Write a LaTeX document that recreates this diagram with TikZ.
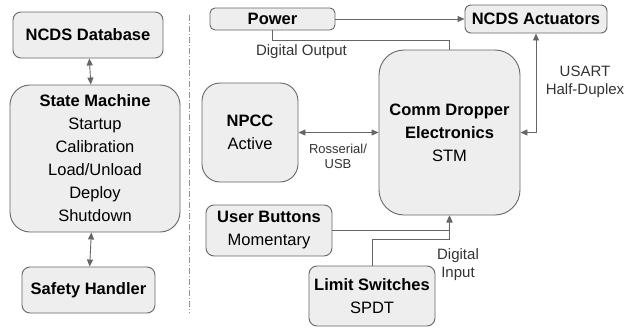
\documentclass[tikz,border=0pt]{standalone}
\usepackage{fontspec}
\setmainfont{Liberation Sans}
\usetikzlibrary{arrows.meta,calc}
\definecolor{linec}{HTML}{666666}
\definecolor{boxbg}{HTML}{EEEEEE}
\definecolor{txtc}{HTML}{333333}
\tikzset{
  bx/.style={draw=linec,line width=0.9pt,fill=boxbg,rounded corners=8pt,align=center,inner sep=0pt,font=\fontsize{16.5}{23}\selectfont},
  ln/.style={linec,line width=0.9pt},
  ar/.style={ln,-{Triangle[length=7pt,width=6pt]}},
  dar/.style={ln,{Triangle[length=7pt,width=6pt]}-{Triangle[length=7pt,width=6pt]}},
  lb/.style={text=txtc,align=center,inner sep=0pt,font=\fontsize{15}{18}\selectfont}
}
\begin{document}
\begin{tikzpicture}[x=1pt,y=-1pt]
\useasboundingbox (0,0) rectangle (624,327);
\node[bx,minimum width=150pt,minimum height=46pt] (db) at (88,35) {\textbf{NCDS Database}};
\node[bx,rounded corners=20pt,minimum width=170pt,minimum height=147pt] (sm) at (95,158.5) {\textbf{State Machine}\\Startup\\Calibration\\Load/Unload\\Deploy\\Shutdown};
\node[bx,minimum width=133pt,minimum height=46pt] (sh) at (88.5,290) {\textbf{Safety Handler}};
\draw[dar] (db) -- (sm);
\draw[dar] (sm) -- (sh);
\draw[linec!70,line width=0.8pt,dash pattern=on 6pt off 2pt on 1pt off 2pt] (189,15) -- (189,313);
\node[bx,rounded corners=5pt,minimum width=125pt,minimum height=22pt] (pw) at (272.5,19) {\textbf{Power}};
\node[bx,rounded corners=6pt,minimum width=142pt,minimum height=28pt] (act) at (536,19) {\textbf{NCDS Actuators}};
\node[bx,rounded corners=25pt,minimum width=141pt,minimum height=165pt] (cde) at (449.5,132.5) {\textbf{Comm Dropper}\\\textbf{Electronics}\\STM};
\node[bx,rounded corners=18pt,minimum width=96pt,minimum height=99pt] (npcc) at (250,132.5) {\textbf{NPCC}\\Active};
\node[bx,minimum width=126pt,minimum height=51pt] (ub) at (269,230.5) {\textbf{User Buttons}\\Momentary};
\node[bx,minimum width=126pt,minimum height=60pt] (ls) at (372,296) {\textbf{Limit Switches}\\SPDT};
\draw[ar] (pw) -- (act);
\draw[ln] (pw.south) -- ++(0,10) -| (cde.north);
\node[lb] (dout) at (301.5,52) {Digital Output};
\draw[dar] (cde.east) -| (act.south);
\node[lb] (usart) at (585,82) {USART\\Half-Duplex};
\draw[dar] (npcc) -- (cde);
\node[lb,font=\fontsize{13}{15}\selectfont] (ros) at (338,156.5) {Rosserial/\\USB};
\draw[ar] (ub.east) -| (cde.south);
\draw[ar] (ls.north) -- ++(0,-26) -| (cde.south);
\node[lb] (din) at (458,265) {Digital\\Input};
\end{tikzpicture}
\end{document}
